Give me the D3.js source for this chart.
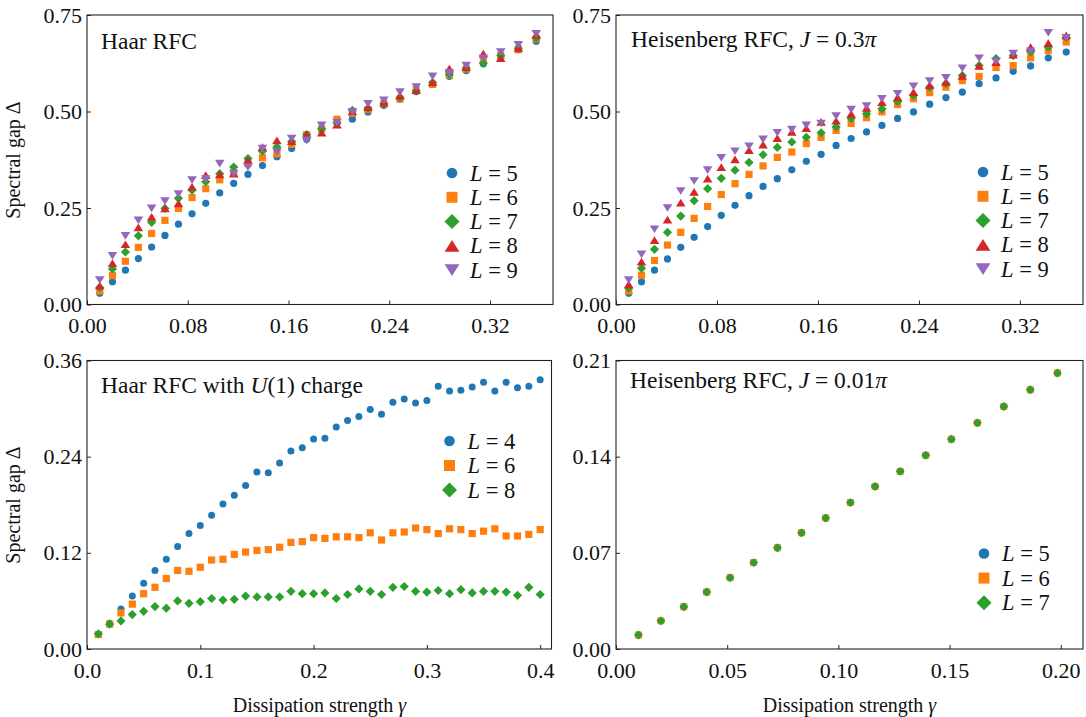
<!DOCTYPE html>
<html><head><meta charset="utf-8">
<script src="https://cdn.jsdelivr.net/npm/d3@7"></script>
<style>body{margin:0;background:#fff}svg{display:block}
text{font-family:'Liberation Serif','DejaVu Serif','Times New Roman',serif;}</style>
</head><body>
<script>
// ---------- data ----------
const gammaGeo = [0.0101,0.0202,0.0305,0.0408,0.0513,0.0619,0.0726,0.0834,0.0943,0.1054,0.1165,0.1278,0.1393,0.1508,0.1625,0.1744,0.1863,0.1985,0.2107,0.2231,0.2357,0.2485,0.2614,0.2744,0.2877,0.3011,0.3147,0.3285,0.3425,0.3567];
const gammaLin = [0.01,0.02,0.03,0.04,0.05,0.06,0.07,0.08,0.09,0.10,0.11,0.12,0.13,0.14,0.15,0.16,0.17,0.18,0.19,0.20,0.21,0.22,0.23,0.24,0.25,0.26,0.27,0.28,0.29,0.30,0.31,0.32,0.33,0.34,0.35,0.36,0.37,0.38,0.39,0.40];
const gammaSmall = [0.0101,0.0202,0.0305,0.0408,0.0513,0.0619,0.0726,0.0834,0.0943,0.1054,0.1165,0.1278,0.1393,0.1508,0.1625,0.1744,0.1863,0.1985];

// Haar RFC
const haarL5 = [0.029,0.059,0.089,0.119,0.149,0.179,0.208,0.235,0.262,0.289,0.314,0.337,0.360,0.383,0.404,0.428,0.452,0.470,0.480,0.499,0.516,0.533,0.552,0.570,0.591,0.606,0.624,0.640,0.665,0.682];
const haarL6 = [0.035,0.075,0.112,0.148,0.184,0.218,0.249,0.277,0.300,0.323,0.340,0.365,0.380,0.390,0.415,0.440,0.455,0.480,0.495,0.505,0.520,0.532,0.556,0.570,0.594,0.610,0.632,0.645,0.660,0.688];
const haarL7 = [0.044,0.092,0.136,0.178,0.213,0.249,0.275,0.296,0.318,0.339,0.356,0.378,0.397,0.408,0.422,0.440,0.455,0.470,0.503,0.508,0.520,0.535,0.553,0.575,0.596,0.612,0.625,0.645,0.663,0.690];
const haarL8 = [0.049,0.107,0.156,0.200,0.227,0.249,0.262,0.305,0.335,0.337,0.339,0.374,0.408,0.425,0.423,0.440,0.445,0.466,0.500,0.511,0.523,0.542,0.555,0.576,0.611,0.615,0.650,0.638,0.665,0.699];
const haarL9 = [0.063,0.126,0.178,0.218,0.249,0.268,0.286,0.322,0.325,0.365,0.339,0.356,0.404,0.395,0.430,0.425,0.464,0.471,0.499,0.520,0.529,0.550,0.563,0.591,0.600,0.619,0.638,0.654,0.673,0.701];

// Heisenberg RFC, J = 0.3 pi
const heisL5 = [0.029,0.059,0.089,0.118,0.148,0.174,0.202,0.231,0.257,0.282,0.306,0.326,0.349,0.371,0.389,0.412,0.430,0.447,0.464,0.482,0.499,0.519,0.536,0.550,0.572,0.587,0.604,0.618,0.639,0.654];
const heisL6 = [0.035,0.076,0.114,0.154,0.187,0.223,0.254,0.285,0.313,0.337,0.359,0.381,0.395,0.417,0.433,0.451,0.469,0.484,0.499,0.518,0.533,0.549,0.563,0.580,0.591,0.614,0.619,0.639,0.658,0.680];
const heisL7 = [0.043,0.094,0.143,0.187,0.229,0.269,0.300,0.327,0.348,0.368,0.388,0.407,0.421,0.433,0.445,0.460,0.482,0.494,0.507,0.526,0.542,0.563,0.572,0.593,0.619,0.637,0.645,0.654,0.667,0.692];
const heisL8 = [0.052,0.111,0.167,0.220,0.264,0.292,0.326,0.356,0.376,0.400,0.414,0.431,0.447,0.457,0.473,0.476,0.494,0.509,0.524,0.537,0.550,0.568,0.576,0.592,0.618,0.628,0.647,0.667,0.677,0.697];
const heisL9 = [0.063,0.130,0.195,0.250,0.294,0.320,0.348,0.380,0.397,0.410,0.428,0.445,0.453,0.464,0.469,0.488,0.505,0.514,0.533,0.546,0.565,0.579,0.587,0.612,0.638,0.630,0.650,0.656,0.704,0.691];

// Haar RFC with U(1) charge
const u1L4 = [0.018,0.032,0.050,0.066,0.082,0.098,0.112,0.128,0.144,0.154,0.167,0.181,0.192,0.204,0.221,0.220,0.232,0.247,0.251,0.262,0.263,0.277,0.285,0.290,0.299,0.293,0.308,0.312,0.307,0.310,0.328,0.322,0.323,0.327,0.333,0.322,0.333,0.326,0.328,0.336];
const u1L6 = [0.018,0.031,0.045,0.056,0.069,0.077,0.088,0.098,0.097,0.102,0.111,0.112,0.118,0.121,0.123,0.124,0.127,0.133,0.134,0.139,0.138,0.140,0.140,0.139,0.145,0.136,0.145,0.146,0.151,0.149,0.144,0.150,0.149,0.144,0.147,0.150,0.141,0.141,0.143,0.149];
const u1L8 = [0.019,0.031,0.035,0.043,0.047,0.053,0.051,0.060,0.057,0.059,0.063,0.061,0.062,0.066,0.065,0.065,0.065,0.072,0.069,0.069,0.070,0.063,0.068,0.075,0.072,0.068,0.077,0.078,0.072,0.071,0.073,0.069,0.074,0.070,0.072,0.072,0.071,0.067,0.077,0.068];

// Heisenberg RFC, J = 0.01 pi
const weakL5 = [0.0102,0.0205,0.0307,0.0415,0.0519,0.0629,0.0737,0.0846,0.0953,0.1066,0.1183,0.1293,0.1410,0.1527,0.1646,0.1765,0.1887,0.2009];
const weakL6 = [0.0102,0.0205,0.0307,0.0415,0.0519,0.0629,0.0737,0.0846,0.0953,0.1066,0.1183,0.1293,0.1410,0.1527,0.1646,0.1765,0.1887,0.2009];
const weakL7 = [0.0102,0.0205,0.0307,0.0415,0.0519,0.0629,0.0737,0.0846,0.0953,0.1066,0.1183,0.1293,0.1410,0.1527,0.1646,0.1765,0.1887,0.2009];

const xTicksTop = [0, 0.08, 0.16, 0.24, 0.32];
const yTicksTop = [0, 0.25, 0.50, 0.75];
const xTicksU1 = [0, 0.1, 0.2, 0.3, 0.4];
const yTicksU1 = [0, 0.12, 0.24, 0.36];
const xTicksWeak = [0, 0.05, 0.10, 0.15, 0.20];
const yTicksWeak = [0, 0.07, 0.14, 0.21];

const palette = ['#1f77b4', '#ff7f0e', '#2ca02c', '#d62728', '#9467bd'];

// ---------- drawing ----------
const svg = d3.select('body').append('svg').attr('width',1086).attr('height',717);

function shapePath(shape, s){
  switch(shape){
    case 'circle': return d3.symbol(d3.symbolCircle, Math.PI*s*s)();
    case 'square': return `M${-s},${-s}H${s}V${s}H${-s}Z`;
    case 'diamond': return `M0,${-s}L${s},0L0,${s}L${-s},0Z`;
    case 'up': return `M0,${-0.8*s}L${s},${0.8*s}L${-s},${0.8*s}Z`;
    case 'down': return `M0,${0.8*s}L${s},${-0.8*s}L${-s},${-0.8*s}Z`;
  }
}

function mathText(sel, parts){
  parts.forEach(p => {
    sel.append('tspan').attr('font-style', p[1] ? 'italic' : 'normal').text(p[0]);
  });
}

function panel(cfg){
  const x = d3.scaleLinear().domain(cfg.xDom).range([cfg.left, cfg.right]);
  const y = d3.scaleLinear().domain(cfg.yDom).range([cfg.bottom, cfg.top]);
  const g = svg.append('g');

  const ax = g.append('g').attr('transform',`translate(0,${cfg.bottom})`)
    .call(d3.axisBottom(x).tickValues(cfg.xTicks).tickFormat(d3.format(cfg.xFmt)).tickSize(-4).tickPadding(13));
  const ay = g.append('g').attr('transform',`translate(${cfg.left},0)`)
    .call(d3.axisLeft(y).tickValues(cfg.yTicks).tickFormat(d3.format(cfg.yFmt)).tickSize(-4).tickPadding(5));
  [ax, ay].forEach(a => {
    a.attr('font-family', null);
    a.select('.domain').remove();
    a.selectAll('line').attr('stroke','#222').attr('stroke-width',1);
    a.selectAll('text').attr('font-size',22).attr('fill','#111');
  });

  g.append('rect').attr('x',cfg.left).attr('y',cfg.top)
    .attr('width',cfg.right-cfg.left).attr('height',cfg.bottom-cfg.top)
    .attr('fill','none').attr('stroke','#222').attr('stroke-width',1.1);

  cfg.series.forEach(s => {
    g.append('g').selectAll('path').data(s.values).join('path')
      .attr('d', shapePath(s.shape, s.size))
      .attr('transform',(v,i)=>`translate(${x(cfg.gamma[i])},${y(v)})`)
      .attr('fill', s.color);
  });

  const t = g.append('text').attr('x',cfg.titleX).attr('y',cfg.titleY)
    .attr('font-size',23.5).attr('fill','#111');
  mathText(t, cfg.title);

  cfg.series.forEach((s,i) => {
    const cy = cfg.legY + i*cfg.legStep;
    g.append('path').attr('d', shapePath(s.shape, s.legSize))
      .attr('transform',`translate(${cfg.legX},${cy})`).attr('fill',s.color);
    const lt = g.append('text').attr('x',cfg.legX+18).attr('y',cy+7.5)
      .attr('font-size',22.5).attr('fill','#111');
    mathText(lt, [['L',true],[' = '+s.label,false]]);
  });
}

const mk = (vals, label, ci, shape, size, legSize) => ({values: vals, label, color: palette[ci], shape, size, legSize});

panel({left:87, right:553, top:15, bottom:304.5, xDom:[0,0.37], yDom:[0,0.75],
  xTicks:xTicksTop, yTicks:yTicksTop, xFmt:'.2f', yFmt:'.2f', gamma:gammaGeo,
  title:[['Haar RFC',false]], titleX:101, titleY:49,
  legX:452, legY:173, legStep:24.3,
  series:[mk(haarL5,'5',0,'circle',3.6,5.3), mk(haarL6,'6',1,'square',3.6,5.5), mk(haarL7,'7',2,'diamond',4.6,7.5),
          mk(haarL8,'8',3,'up',4.8,7.4), mk(haarL9,'9',4,'down',4.8,7.4)]});

panel({left:616, right:1083, top:15, bottom:304.5, xDom:[0,0.37], yDom:[0,0.75],
  xTicks:xTicksTop, yTicks:yTicksTop, xFmt:'.2f', yFmt:'.2f', gamma:gammaGeo,
  title:[['Heisenberg RFC, ',false],['J',true],[' = 0.3',false],['π',true]], titleX:631, titleY:47,
  legX:983, legY:172, legStep:24.3,
  series:[mk(heisL5,'5',0,'circle',3.6,5.3), mk(heisL6,'6',1,'square',3.6,5.5), mk(heisL7,'7',2,'diamond',4.6,7.5),
          mk(heisL8,'8',3,'up',4.8,7.4), mk(heisL9,'9',4,'down',4.8,7.4)]});

panel({left:87, right:551.5, top:360.5, bottom:649, xDom:[0,0.41], yDom:[0,0.36],
  xTicks:xTicksU1, yTicks:yTicksU1, xFmt:'.1f', yFmt:'.2f', gamma:gammaLin,
  title:[['Haar RFC with ',false],['U',true],['(1) charge',false]], titleX:101, titleY:393,
  legX:449.5, legY:441, legStep:24.5,
  series:[mk(u1L4,'4',0,'circle',3.5,5.3), mk(u1L6,'6',1,'square',3.6,5.5), mk(u1L8,'8',2,'diamond',4.6,7.5)]});

panel({left:616, right:1083, top:360.5, bottom:649, xDom:[0,0.21], yDom:[0,0.21],
  xTicks:xTicksWeak, yTicks:yTicksWeak, xFmt:'.2f', yFmt:'.2f', gamma:gammaSmall,
  title:[['Heisenberg RFC, ',false],['J',true],[' = 0.01',false],['π',true]], titleX:630, titleY:388,
  legX:984, legY:553.5, legStep:24.6,
  series:[mk(weakL5,'5',0,'circle',3.7,5.3), mk(weakL6,'6',1,'square',3.4,5.5), mk(weakL7,'7',2,'diamond',4.4,7.5)]});

[[20,160],[20,505]].forEach(([cx,cy]) => {
  const t = svg.append('text').attr('transform',`translate(${cx},${cy}) rotate(-90)`)
    .attr('text-anchor','middle').attr('font-size',20).attr('fill','#111');
  mathText(t, [['Spectral gap ',false],['Δ',false]]);
});
[[319.5,712],[849.5,712]].forEach(([cx,cy]) => {
  const t = svg.append('text').attr('x',cx).attr('y',cy)
    .attr('text-anchor','middle').attr('font-size',20).attr('fill','#111');
  mathText(t, [['Dissipation strength ',false],['γ',true]]);
});
</script>
</body></html>
